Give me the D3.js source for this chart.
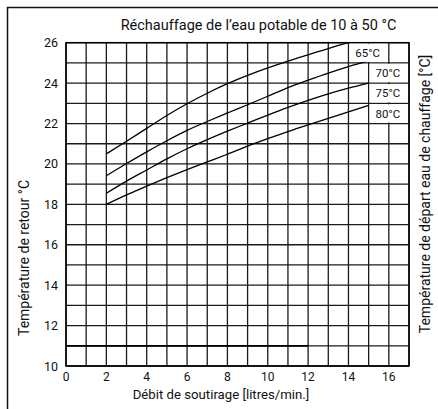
<!DOCTYPE html>
<html>
<head>
<meta charset="utf-8">
<script src="https://cdn.jsdelivr.net/npm/d3@7"></script>
<style>
  body { margin: 0; background: #fff; }
  svg text { font-family: "Roboto", "Liberation Sans", sans-serif; fill: #111; }
</style>
</head>
<body>
<svg id="chart" width="438" height="409"></svg>
<script>
// Débit de soutirage (l/min) for each point of the curves
var flow65 = [2, 3, 4, 5, 6, 7, 8, 9, 10, 11, 12, 13, 14];
var flow = [2, 3, 4, 5, 6, 7, 8, 9, 10, 11, 12, 13, 14, 15];

// Température de retour (°C) per supply temperature
var ret65 = [20.5, 21.12, 21.76, 22.4, 22.98, 23.5, 23.97, 24.38, 24.75, 25.09, 25.4, 25.71, 26.0];
var ret70 = [19.42, 20.02, 20.6, 21.15, 21.66, 22.1, 22.52, 22.93, 23.35, 23.78, 24.15, 24.5, 24.82, 25.1];
var ret75 = [18.55, 19.15, 19.7, 20.25, 20.75, 21.2, 21.62, 22.02, 22.42, 22.8, 23.15, 23.47, 23.75, 24.0];
var ret80 = [18.0, 18.47, 18.9, 19.32, 19.72, 20.1, 20.48, 20.88, 21.25, 21.6, 21.93, 22.25, 22.58, 22.9];

var seriesNames = ["65°C", "70°C", "75°C", "80°C"];
var xTicks = [0, 2, 4, 6, 8, 10, 12, 14, 16];
var yTicks = [10, 12, 14, 16, 18, 20, 22, 24, 26];

var svg = d3.select("#chart");

var x = d3.scaleLinear().domain([0, 17]).range([66, 409]);
var y = d3.scaleLinear().domain([10, 26]).range([366, 42.7]);

// outer frame (only top and left edges are visible)
svg.append("rect")
    .attr("x", 7.5).attr("y", 7.5)
    .attr("width", 440).attr("height", 420)
    .attr("fill", "none").attr("stroke", "#111").attr("stroke-width", 1.5);

// grid every unit
var grid = svg.append("g").attr("class", "grid");
grid.selectAll("line.v")
    .data(d3.range(0, 18))
    .enter().append("line")
    .attr("x1", function (d) { return x(d); }).attr("x2", function (d) { return x(d); })
    .attr("y1", y(10)).attr("y2", y(26))
    .attr("stroke", "#1a1a1a").attr("stroke-width", 1.3);
grid.selectAll("line.h")
    .data(d3.range(10, 27))
    .enter().append("line")
    .attr("x1", x(0)).attr("x2", x(17))
    .attr("y1", function (d) { return y(d); }).attr("y2", function (d) { return y(d); })
    .attr("stroke", "#1a1a1a").attr("stroke-width", 1.3);

// slightly heavier line at 11 °C, as in the printed chart
grid.append("line")
    .attr("x1", x(0)).attr("x2", x(12))
    .attr("y1", y(11)).attr("y2", y(11))
    .attr("stroke", "#000").attr("stroke-width", 1.8);

// plot border
svg.append("rect")
    .attr("x", x(0)).attr("y", y(26))
    .attr("width", x(17) - x(0)).attr("height", y(10) - y(26))
    .attr("fill", "none").attr("stroke", "#000").attr("stroke-width", 1.5);

// curves
var line = d3.line()
    .x(function (d) { return x(d[0]); })
    .y(function (d) { return y(d[1]); })
    .curve(d3.curveMonotoneX);

var curves = [d3.zip(flow65, ret65), d3.zip(flow, ret70), d3.zip(flow, ret75), d3.zip(flow, ret80)];

svg.append("g").selectAll("path")
    .data(curves)
    .enter().append("path")
    .attr("d", line)
    .attr("fill", "none")
    .attr("stroke", "#000")
    .attr("stroke-width", 1.3);

// curve labels sit in grid cells with a white background
var labelCells = [
    { x0: 14, x1: 16, row: 25 },
    { x0: 15, x1: 17, row: 24 },
    { x0: 15, x1: 17, row: 23 },
    { x0: 15, x1: 17, row: 22 }
];

var labels = svg.append("g").selectAll("g")
    .data(seriesNames)
    .enter().append("g");

labels.append("rect")
    .attr("x", function (d, i) { return x(labelCells[i].x0) + 1; })
    .attr("y", function (d, i) { return y(labelCells[i].row + 1) + 1; })
    .attr("width", function (d, i) { return x(labelCells[i].x1) - x(labelCells[i].x0) - 2; })
    .attr("height", function (d, i) { return y(labelCells[i].row) - y(labelCells[i].row + 1) - 2; })
    .attr("fill", "#fff");

labels.append("text")
    .attr("x", function (d, i) { return (x(labelCells[i].x0) + x(labelCells[i].x1)) / 2 - 1; })
    .attr("y", function (d, i) { return y(labelCells[i].row + 0.5); })
    .attr("dy", "0.36em")
    .attr("text-anchor", "middle")
    .attr("font-size", 11.5)
    .text(function (d) { return d; });

// tick labels
svg.append("g").selectAll("text")
    .data(xTicks)
    .enter().append("text")
    .attr("x", function (d) { return x(d); })
    .attr("y", 377)
    .attr("dy", "0.36em")
    .attr("text-anchor", "middle")
    .attr("font-size", 12)
    .text(function (d) { return d; });

svg.append("g").selectAll("text")
    .data(yTicks)
    .enter().append("text")
    .attr("x", 58)
    .attr("y", function (d) { return y(d); })
    .attr("dy", "0.36em")
    .attr("text-anchor", "end")
    .attr("font-size", 12.5)
    .text(function (d) { return d; });

// titles
svg.append("text")
    .attr("x", 258.5).attr("y", 29.5)
    .attr("text-anchor", "middle")
    .attr("font-size", 14.5)
    .text("Réchauffage de l’eau potable de 10 à 50 °C");

svg.append("text")
    .attr("x", 221).attr("y", 398.5)
    .attr("text-anchor", "middle")
    .attr("font-size", 13.2)
    .text("Débit de soutirage [litres/min.]");

svg.append("text")
    .attr("transform", "translate(28.5,258) rotate(-90)")
    .attr("text-anchor", "middle")
    .attr("font-size", 14)
    .text("Température de retour °C");

svg.append("text")
    .attr("transform", "translate(429.5,194) rotate(-90)")
    .attr("text-anchor", "middle")
    .attr("font-size", 14)
    .text("Température de départ eau de chauffage [°C]");
</script>
</body>
</html>
